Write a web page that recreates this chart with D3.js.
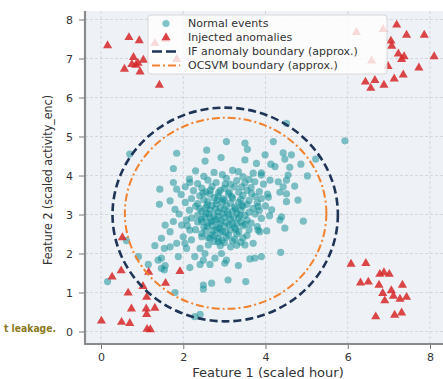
<!DOCTYPE html>
<html><head><meta charset="utf-8">
<script src="https://cdn.jsdelivr.net/npm/d3@7"></script>
<style>body{margin:0;background:#fff}svg{display:block}text{font-family:"DejaVu Sans",sans-serif}</style>
</head><body><div id="chart"></div>
<script>
// ---------- data ----------
const xTicks = [0, 2, 4, 6, 8];
const yTicks = [0, 1, 2, 3, 4, 5, 6, 7, 8];
const xLabel = "Feature 1 (scaled hour)";
const yLabel = "Feature 2 (scaled activity_enc)";
const legendLabels = ["Normal events", "Injected anomalies", "IF anomaly boundary (approx.)", "OCSVM boundary (approx.)"];
const overlayText = "t leakage.";

// normal events: periphery
const normalOuter = [
[0.70,4.55],[1.84,4.57],[2.57,4.65],[2.53,4.37],[2.92,4.46],[3.05,4.87],[1.76,4.18],[1.76,3.82],[2.16,3.82],[1.43,3.65],[1.84,3.65],[1.42,3.26],[1.68,3.35],[1.80,3.13],
[3.5,4.83],[3.56,4.67],[4.51,5.34],[4.19,4.87],[3.99,4.53],[4.43,4.58],[4.47,4.42],[4.63,4.53],[3.5,4.4],[3.78,4.31],[4.13,4.29],[4.23,4.23],[4.86,4.29],[3.34,4.1],[3.9,4.07],[4.59,4.21],[5.22,4.42],[5.02,3.99],[4.55,4.01],[4.31,3.84],[4.43,3.71],[4.51,3.88],[4.11,3.88],[4.35,3.57],[4.71,3.73],[4.51,3.33],[4.07,3.44],[4.15,3.12],[3.82,3.2],[3.66,3.54],[3.74,3.84],[3.42,3.71],[5.93,4.89],
[1.47,2.39],[1.68,2.17],[1.31,2.2],[1.54,2.13],[0.91,1.92],[1.47,1.88],[1.56,1.69],[1.15,1.72],[1.54,1.58],[1.88,1.92],[2.08,2.13],[2.04,2.26],[1.84,2.26],[2.28,1.92],[2.41,2.13],[2.53,2.0],[2.49,1.83],[2.16,1.64],[2.41,1.72],[2.65,1.72],[2.77,1.88],[2.93,2.0],[3.01,1.75],[2.49,1.19],[2.69,1.24],[2.49,1.09],[1.8,1.0],[2.41,0.44],[2.28,0.38],[1.56,2.73],[1.68,2.56],[1.96,2.73],[2.16,2.6],[2.0,2.43],[2.2,2.35],[2.45,2.43],[2.65,2.39],[2.85,2.3],[2.61,2.22],[1.76,2.82],[2.08,2.86],[2.45,2.82],[0.16,1.28],[0.62,2.33],[1.39,1.83],[1.47,1.62],
[3.3,2.77],[3.82,2.6],[4.03,2.58],[4.47,2.65],[4.92,2.83],[4.35,2.86],[3.7,2.26],[3.5,2.22],[4.37,2.03],[3.9,1.92],[3.74,1.88],[3.62,1.86],[3.34,1.69],[3.05,1.83],[3.09,1.32],[3.52,1.28],[4.79,3.37],[4.39,2.94],[4.51,3.53],[3.86,2.56]
];
// normal events: dense core
const normalCore = [
[2.3,4.12],[2.75,4.08],[3.2,4.13],[3.7,4.06],
[2.5,3.98],[2.95,4.02],[3.45,3.97],[3.9,4.01],
[2.15,3.91],[2.6,3.88],[3.05,3.93],[3.3,3.87],[3.6,3.9],
[2.35,3.79],[2.8,3.82],[3.15,3.77],[3.5,3.81],[3.95,3.78],
[2.05,3.71],[2.45,3.68],[2.7,3.72],[3.0,3.67],[3.25,3.71],[3.65,3.69],
[2.25,3.61],[2.55,3.58],[2.9,3.62],[3.35,3.57],[3.55,3.62],[3.85,3.59],
[1.95,3.51],[2.4,3.48],[2.65,3.52],[2.85,3.47],[3.1,3.53],[3.45,3.49],[3.75,3.46],[4.05,3.52],
[2.2,3.41],[2.5,3.38],[2.75,3.43],[3.0,3.37],[3.2,3.42],[3.4,3.39],[3.6,3.36],[3.9,3.41],
[2.05,3.31],[2.35,3.28],[2.6,3.33],[2.8,3.27],[2.95,3.32],[3.15,3.29],[3.35,3.31],[3.55,3.26],[3.8,3.3],
[2.3,3.21],[2.55,3.18],[2.7,3.23],[2.9,3.17],[3.05,3.22],[3.25,3.19],[3.45,3.21],[3.7,3.16],[4.0,3.22],
[2.15,3.11],[2.45,3.08],[2.65,3.12],[2.85,3.07],[3.0,3.13],[3.2,3.09],[3.4,3.11],[3.6,3.06],[3.85,3.1],
[1.9,3.01],[2.35,2.98],[2.55,3.03],[2.75,2.97],[2.95,3.02],[3.1,2.99],[3.3,3.03],[3.5,2.98],[3.75,3.01],[4.1,2.97],
[2.2,2.91],[2.45,2.88],[2.65,2.92],[2.8,2.87],[3.0,2.93],[3.15,2.89],[3.35,2.91],[3.55,2.86],[3.9,2.9],
[2.35,2.81],[2.6,2.78],[2.75,2.82],[2.9,2.77],[3.05,2.8],[3.2,2.76],[3.4,2.81],[3.65,2.78],
[2.1,2.71],[2.5,2.68],[2.7,2.72],[2.85,2.67],[3.0,2.7],[3.25,2.66],[3.45,2.71],[3.8,2.69],
[2.3,2.61],[2.55,2.58],[2.8,2.62],[2.95,2.57],[3.15,2.6],[3.35,2.56],[3.6,2.61],
[2.45,2.51],[2.7,2.48],[2.9,2.52],[3.1,2.47],[3.3,2.5],[3.55,2.46],
[2.6,2.41],[2.85,2.38],[3.05,2.42],[3.25,2.37],[3.45,2.4],
[2.75,2.31],[3.0,2.28],[3.2,2.32],[3.4,2.29],
[2.9,2.2],[3.15,2.17],[3.3,2.21],
[2.62,3.02],[2.78,3.14],[2.92,2.85],[3.08,3.06],[3.22,2.92],[2.68,2.83],[2.84,2.95],[3.12,2.74],[2.58,3.24],[2.97,3.4],
[3.27,3.14],[2.72,2.58],[2.88,2.64],[3.03,2.55],[2.52,2.93],[3.38,2.98],[2.82,3.36],[3.18,3.46],[2.66,3.62],[3.02,3.78],
[2.76,2.45],[2.94,2.34],[3.42,3.24],[2.48,3.55],[3.28,2.62],[2.58,2.7],[3.12,3.58],[2.86,3.56],[2.4,3.15],[3.5,2.75]
];
const normalPoints = normalOuter.concat(normalCore);

// injected anomalies
const anomTopLeft = [[0.16,7.33],[0.68,7.54],[0.93,7.46],[1.31,7.39],[1.57,7.5],[0.79,7.03],[1.03,6.96],[0.9,6.88],[0.57,6.73],[0.85,6.83],[0.95,6.66],[1.42,6.32],[1.84,6.98],[0.75,6.85]];
const anomTopRight = [[6.21,7.67],[6.86,7.75],[7.19,7.86],[7.43,7.6],[7.86,7.6],[7.05,7.45],[7.07,7.32],[7.23,7.12],[7.31,6.98],[7.37,7.05],[8.1,7.05],[7.73,6.76],[7.35,6.58],[7.13,6.48],[6.88,6.32],[6.66,6.44],[6.43,6.4],[6.56,6.24],[6.58,6.94],[6.98,6.8]];
const anomBottomLeft = [[0.52,2.41],[0.27,1.4],[0.49,1.56],[1.16,1.52],[1.92,1.54],[1.57,1.24],[1.02,1.16],[0.66,0.99],[1.11,0.88],[0.74,0.58],[1.31,0.6],[1.1,0.58],[1.11,0.44],[0.01,0.27],[0.5,0.24],[0.7,0.21],[1.2,0.05],[1.12,0.06]];
const anomBottomRight = [[6.08,1.73],[6.44,1.75],[6.78,1.47],[6.88,1.51],[7.01,1.47],[6.31,1.25],[6.5,1.27],[6.76,1.19],[7.33,1.19],[6.85,0.98],[7.06,1.05],[7.11,0.91],[7.27,0.83],[7.43,0.88],[6.9,0.79],[6.68,0.38],[7.14,0.42],[7.31,0.48]];
const anomalies = anomTopLeft.concat(anomTopRight, anomBottomLeft, anomBottomRight);

// approximate boundaries (center x, center y, radius)
const ifBoundary = [3.02, 3.0, 2.74];
const ocsvmBoundary = [3.03, 3.03, 2.45];

// ---------- drawing ----------
const W = 443, H = 379;
const svg = d3.select("#chart").append("svg").attr("width", W).attr("height", H);
const x = d3.scaleLinear().domain([0, 8]).range([101, 430]);
const y = d3.scaleLinear().domain([0, 8]).range([331.5, 19.5]);
const plotL = 85, plotT = 11, plotR = 445, plotB = 344;

const cNormal = "#0f8f98", cAnom = "#d62728", cIF = "#1e3557", cOC = "#f0812f";

svg.append("defs").append("clipPath").attr("id", "clip")
  .append("rect").attr("x", plotL).attr("y", plotT).attr("width", plotR - plotL).attr("height", plotB - plotT);

svg.append("rect").attr("x", plotL).attr("y", plotT).attr("width", plotR - plotL).attr("height", plotB - plotT).attr("fill", "#eef1f5");

const grid = svg.append("g").attr("clip-path", "url(#clip)");
grid.selectAll(".gx").data(xTicks).join("line")
  .attr("x1", d => x(d)).attr("x2", d => x(d)).attr("y1", plotT).attr("y2", plotB)
  .attr("stroke", "#cdd2d8").attr("stroke-width", 0.8).attr("stroke-dasharray", "3,2");
grid.selectAll(".gy").data(yTicks).join("line")
  .attr("y1", d => y(d)).attr("y2", d => y(d)).attr("x1", plotL).attr("x2", plotR)
  .attr("stroke", "#cdd2d8").attr("stroke-width", 0.8).attr("stroke-dasharray", "3,2");

const plot = svg.append("g").attr("clip-path", "url(#clip)");
plot.selectAll("circle.n").data(normalPoints).join("circle")
  .attr("cx", d => x(d[0])).attr("cy", d => y(d[1])).attr("r", 3.6)
  .attr("fill", cNormal).attr("fill-opacity", 0.52);

const tri = d3.symbol().type(d3.symbolTriangle).size(36);
plot.selectAll("path.a").data(anomalies).join("path")
  .attr("d", tri).attr("transform", d => `translate(${x(d[0])},${y(d[1])})`)
  .attr("fill", cAnom).attr("fill-opacity", 0.85);

function ring(b, color, width, dash) {
  plot.append("ellipse")
    .attr("cx", x(b[0])).attr("cy", y(b[1]))
    .attr("rx", x(b[2]) - x(0)).attr("ry", y(0) - y(b[2]))
    .attr("fill", "none").attr("stroke", color).attr("stroke-width", width).attr("stroke-dasharray", dash);
}
ring(ifBoundary, cIF, 2.6, "8,4");
ring(ocsvmBoundary, cOC, 2, "8,3,2,3");

// axes
const xAxis = svg.append("g").attr("transform", `translate(0,${plotB})`)
  .call(d3.axisBottom(x).tickValues(xTicks).tickSize(5).tickPadding(4).tickFormat(d3.format("d")));
const yAxis = svg.append("g").attr("transform", `translate(${plotL},0)`)
  .call(d3.axisLeft(y).tickValues(yTicks).tickSize(6).tickPadding(6).tickFormat(d3.format("d")));
[xAxis, yAxis].forEach(a => {
  a.select(".domain").remove();
  a.selectAll(".tick line").attr("stroke", "#777").attr("stroke-width", 1);
  a.selectAll(".tick text").attr("fill", "#333").style("font-size", "11px").style("font-family", "DejaVu Sans");
});
svg.append("line").attr("x1", plotL).attr("x2", plotL).attr("y1", plotT).attr("y2", plotB + 1)
  .attr("stroke", "#8a8a8a").attr("stroke-width", 2.2);
svg.append("line").attr("x1", plotL - 1).attr("x2", plotR).attr("y1", plotB).attr("y2", plotB)
  .attr("stroke", "#8a8a8a").attr("stroke-width", 2.2);

svg.append("text").attr("x", 268).attr("y", 377).attr("text-anchor", "middle")
  .attr("fill", "#333").style("font-size", "13px").text(xLabel);
svg.append("text").attr("transform", "translate(52,180) rotate(-90)").attr("text-anchor", "middle")
  .attr("fill", "#333").style("font-size", "12.5px")
  .attr("textLength", 170).attr("lengthAdjust", "spacingAndGlyphs").text(yLabel);

// legend
const lg = svg.append("g");
lg.append("rect").attr("x", 148).attr("y", 15).attr("width", 239).attr("height", 59).attr("rx", 3)
  .attr("fill", "#fff").attr("fill-opacity", 0.8).attr("stroke", "#d0d0d0").attr("stroke-width", 0.8);
const rowY = [23.5, 37.5, 51.5, 65.5];
lg.selectAll("text.lt").data(legendLabels).join("text")
  .attr("x", 188).attr("y", (d, i) => rowY[i]).attr("dy", "0.35em")
  .attr("fill", "#333").style("font-size", "11px").text(d => d);
lg.append("circle").attr("cx", 166).attr("cy", rowY[0]).attr("r", 3.6).attr("fill", cNormal).attr("fill-opacity", 0.52);
lg.append("path").attr("d", tri).attr("transform", `translate(166,${rowY[1]})`).attr("fill", cAnom).attr("fill-opacity", 0.85);
lg.append("line").attr("x1", 152).attr("x2", 180).attr("y1", rowY[2]).attr("y2", rowY[2])
  .attr("stroke", cIF).attr("stroke-width", 2.6).attr("stroke-dasharray", "10,4");
lg.append("line").attr("x1", 152).attr("x2", 180).attr("y1", rowY[3]).attr("y2", rowY[3])
  .attr("stroke", cOC).attr("stroke-width", 2).attr("stroke-dasharray", "8,3,2,3");

// overlay text fragment (kept clear of the "0" tick label)
svg.append("text").attr("x", 4).attr("y", 332).attr("fill", "#8b7a1e")
  .style("font-size", "10.5px").style("font-weight", "bold")
  .attr("textLength", 52).attr("lengthAdjust", "spacingAndGlyphs").text(overlayText);
</script></body></html>
